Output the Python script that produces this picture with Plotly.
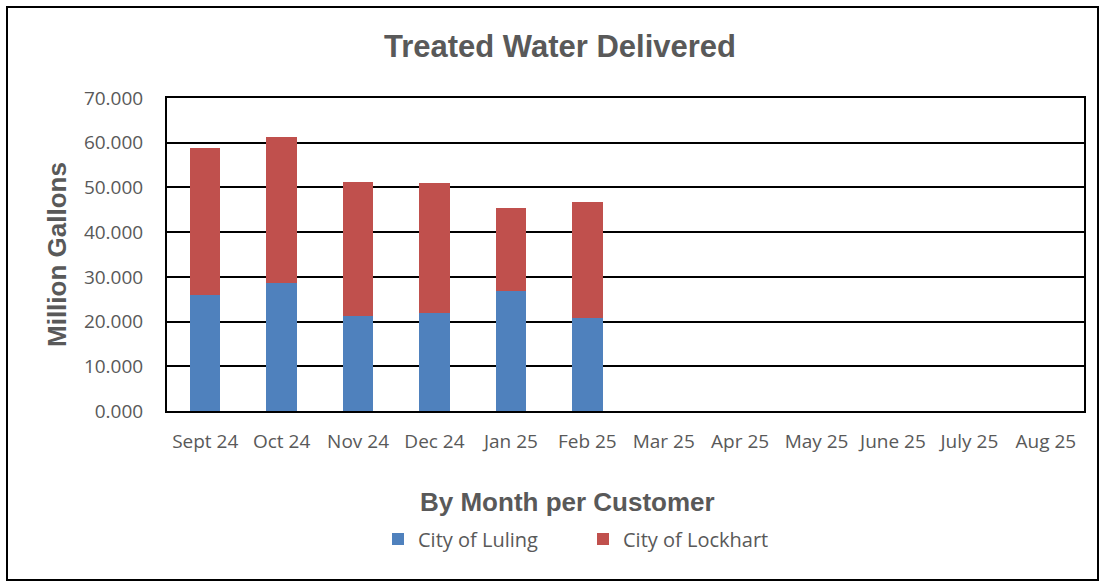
import plotly.graph_objects as go

months = ["Sept 24", "Oct 24", "Nov 24", "Dec 24", "Jan 25", "Feb 25",
          "Mar 25", "Apr 25", "May 25", "June 25", "July 25", "Aug 25"]
luling = [25.9, 28.6, 21.3, 22.0, 26.8, 20.7, None, None, None, None, None, None]
lockhart = [32.9, 32.6, 30.0, 28.9, 18.6, 26.1, None, None, None, None, None, None]
y_ticks = [0, 10, 20, 30, 40, 50, 60, 70]

FONT = "Open Sans, Lato, sans-serif"
BOLD = "Liberation Sans, Arial, sans-serif"
GREY = "#595959"

fig = go.Figure()
fig.add_trace(go.Bar(x=months, y=luling, name="City of Luling",
                     marker=dict(color="#4F81BD", line=dict(width=0))))
fig.add_trace(go.Bar(x=months, y=lockhart, name="City of Lockhart",
                     marker=dict(color="#C0504D", line=dict(width=0))))

W, H = 1104, 584
L, R, T, B = 167, 1084, 98, 411
def px(x):
    return (x - L) / (R - L)
def py(y):
    return (B - y) / (B - T)

fig.update_layout(
    width=W, height=H,
    barmode="stack", bargap=0.6,
    plot_bgcolor="white", paper_bgcolor="white",
    margin=dict(l=L, r=W - R, t=T, b=H - B, pad=0),
    font=dict(family=FONT, color=GREY, size=19),
    title=dict(text="<b>Treated Water Delivered</b>", x=px(560), xref="paper",
               xanchor="center", y=1 - 46 / H, yanchor="middle",
               font=dict(family=BOLD, size=31, color=GREY)),
    showlegend=True,
    legend=dict(orientation="h", x=px(583), xanchor="center", y=py(539), yanchor="middle",
                font=dict(family=FONT, size=20, color=GREY), traceorder="normal",
                itemsizing="constant", entrywidth=160, entrywidthmode="pixels",
                itemwidth=30),
    xaxis=dict(showline=True, linecolor="black", linewidth=2, mirror=True,
               ticks="", ticklabelstandoff=12,
               tickfont=dict(family=FONT, size=19, color=GREY),
               showgrid=False, fixedrange=True),
    yaxis=dict(range=[0, 70], tickvals=y_ticks, tickformat=".3f",
               showline=True, linecolor="black", linewidth=2, mirror=True,
               showgrid=True, gridcolor="black", gridwidth=2,
               ticks="", ticklabelstandoff=18, fixedrange=True,
               tickfont=dict(family=FONT, size=19, color=GREY)),
    annotations=[
        dict(text="<b>By Month per Customer</b>", xref="paper", yref="paper",
             x=px(567), y=py(502), xanchor="center", yanchor="middle",
             showarrow=False, font=dict(family=BOLD, size=26, color=GREY)),
        dict(text="<b>Million Gallons</b>", xref="paper", yref="paper",
             x=px(57), y=py(255), xanchor="center", yanchor="middle", textangle=-90,
             showarrow=False, font=dict(family=BOLD, size=26, color=GREY)),
    ],
    shapes=[dict(type="rect", xref="paper", yref="paper",
                 x0=px(7), x1=px(1098), y0=py(580), y1=py(7),
                 line=dict(color="black", width=2), fillcolor="rgba(0,0,0,0)", layer="below")],
)

fig.write_html("out.html", config={"displayModeBar": False},
               post_script="document.body.style.margin='0';")
